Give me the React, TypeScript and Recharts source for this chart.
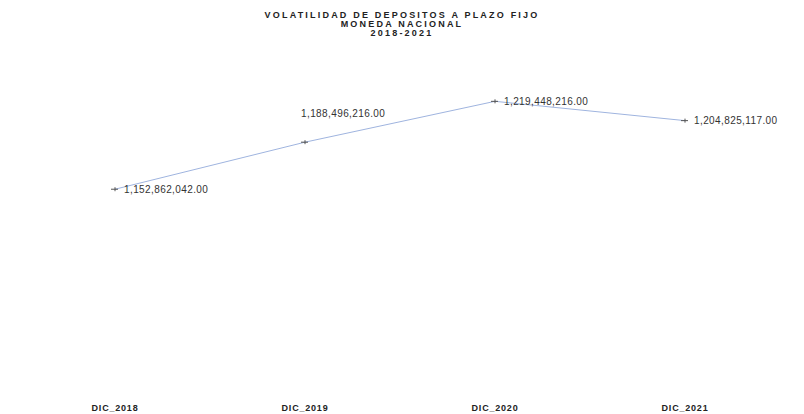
import React from 'react';
import { LineChart, Line, XAxis, YAxis, LabelList } from 'recharts';

const periods = ['DIC_2018', 'DIC_2019', 'DIC_2020', 'DIC_2021'];
const depositos = [1152862042.0, 1188496216.0, 1219448216.0, 1204825117.0];
const titleLines = ['VOLATILIDAD DE DEPOSITOS A PLAZO FIJO', 'MONEDA NACIONAL', '2018-2021'];

const data = periods.map((p, i) => ({ periodo: p, monto: depositos[i] }));

const FONT = 'Arial, "Liberation Sans", sans-serif';

const fmt = (v: number) =>
  new Intl.NumberFormat('en-US', { minimumFractionDigits: 2, maximumFractionDigits: 2 }).format(v);

const CrossDot = (props: any) => {
  const { cx, cy } = props;
  if (cx == null || cy == null) return null;
  return (
    <g>
      <line x1={cx - 4} y1={cy} x2={cx + 3} y2={cy} stroke="#555" strokeWidth={1} />
      <line x1={cx} y1={cy - 2} x2={cx} y2={cy + 2} stroke="#555" strokeWidth={1} />
    </g>
  );
};

// value labels sit to the right of each point, the second one is lifted above the line
const ValueLabel = (props: any) => {
  const { x, y, value, index } = props;
  const lifted = index === 1;
  return (
    <text
      x={lifted ? x - 4 : x + 9}
      y={lifted ? y - 29 : y}
      dy="0.35em"
      textAnchor="start"
      fill="#333"
      fontSize={10}
      letterSpacing={0.4}
      fontFamily={FONT}
    >
      {fmt(Number(value))}
    </text>
  );
};

const App = () => {
  return (
    <div style={{ position: 'absolute', top: 0, left: 0, width: 804, height: 414, background: '#fff' }}>
      <div
        style={{
          position: 'absolute',
          top: 11,
          left: 0,
          width: 804,
          textAlign: 'center',
          fontFamily: FONT,
          fontWeight: 700,
          fontSize: 9,
          lineHeight: '9px',
          color: '#222',
          letterSpacing: 2.2,
        }}
      >
        {titleLines.map((t) => (
          <div key={t}>{t}</div>
        ))}
      </div>
      <LineChart width={804} height={414} data={data} margin={{ top: 61, right: 0, bottom: 0, left: 0 }}>
        <XAxis
          dataKey="periodo"
          padding={{ left: 115, right: 119 }}
          axisLine={false}
          tickLine={false}
          height={23}
          tick={{ fill: '#222', fontSize: 9, fontWeight: 700, fontFamily: FONT, letterSpacing: 0.8 }}
          tickMargin={8}
        />
        <YAxis hide domain={[1000000000, 1250000000]} allowDataOverflow />
        <Line
          type="linear"
          dataKey="monto"
          stroke="#9fb4df"
          strokeWidth={1}
          dot={<CrossDot />}
          activeDot={false}
          isAnimationActive={false}
        >
          <LabelList dataKey="monto" content={<ValueLabel />} />
        </Line>
      </LineChart>
    </div>
  );
};

export default App;
